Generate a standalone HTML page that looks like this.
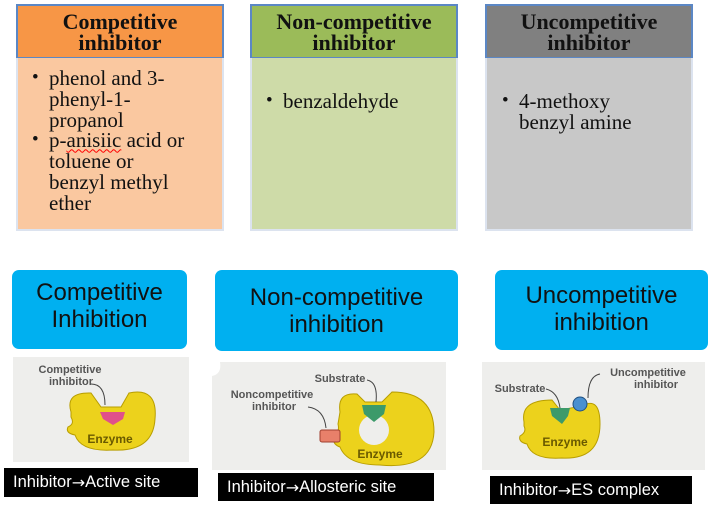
<!DOCTYPE html>
<html><head><meta charset="utf-8"><style>
body{margin:0;width:709px;height:509px;background:#fff;position:relative;overflow:hidden;font-family:"Liberation Sans",sans-serif}
.a{position:absolute;box-sizing:border-box}
.hd{border:2px solid #5b87c5;font-family:"Liberation Serif",serif;font-weight:bold;font-size:22px;line-height:21px;text-align:center;padding-top:5px;color:#111}
.bd{border:2px solid #dce3ef;border-top:none;font-family:"Liberation Serif",serif;font-size:21px;line-height:20.8px;color:#111;white-space:nowrap}
.bd ul{margin:0;padding:0;list-style:none}
.bd li{position:relative}
.bd li:before{content:"•";position:absolute;left:-17px;font-size:19px}
.blue{background:#00b0f0;border-radius:7px;font-size:24px;line-height:27px;text-align:center;color:#111}
.blk{background:#000;color:#fff;font-size:16.5px;padding-left:9px;white-space:nowrap;display:flex;align-items:center}
.ar{font-family:"DejaVu Sans",sans-serif;font-size:16px}
</style></head><body>
<div class="a hd" style="left:16px;top:4px;width:208px;height:55px;background:#f79646">Competitive<br>inhibitor</div>
<div class="a bd" style="left:16px;top:58px;width:208px;height:173px;background:#fac8a0;padding:10px 0 0 31px">
<ul><li>phenol and 3-<br>phenyl-1-<br>propanol</li><li>p-<span style="text-decoration:underline wavy red;text-decoration-thickness:1px">anisiic</span> acid or<br>toluene or<br>benzyl methyl<br>ether</li></ul></div>
<div class="a hd" style="left:250px;top:4px;width:208px;height:55px;background:#9bbb59">Non-competitive<br>inhibitor</div>
<div class="a bd" style="left:250px;top:58px;width:208px;height:173px;background:#cedba8;padding:33px 0 0 31px"><ul><li>benzaldehyde</li></ul></div>
<div class="a hd" style="left:485px;top:4px;width:208px;height:55px;background:#808080">Uncompetitive<br>inhibitor</div>
<div class="a bd" style="left:485px;top:58px;width:208px;height:173px;background:#c8c8c8;padding:33px 0 0 32px"><ul><li>4-methoxy<br>benzyl amine</li></ul></div>

<div class="a blue" style="left:12px;top:270px;width:175px;height:79px;padding-top:9px">Competitive<br>Inhibition</div>
<div class="a blue" style="left:215px;top:270px;width:243px;height:81px;padding-top:14px">Non-competitive<br>inhibition</div>
<div class="a blue" style="left:495px;top:270px;width:213px;height:80px;padding-top:12px">Uncompetitive<br>inhibition</div>

<svg class="a" style="left:13px;top:357px" width="176" height="105"><rect width="176" height="105" fill="#eeeeec"/>
<path d="M58 55 Q52 35 78 36 L88 50 L108 50 L116 36 Q145 30 142 62 Q140 95 100 93 Q68 95 62 78 Q52 76 55 70 Q62 67 58 60 Z" fill="#ecd21c" stroke="#b89e00"/>
<path d="M87 55 L112 55 L110 62 L100 68 L90 62 Z" fill="#e0508a"/>
<path d="M78 27 Q92 27 92 48" fill="none" stroke="#444"/>
<text x="57" y="16" font-size="11" font-weight="bold" fill="#555" text-anchor="middle">Competitive</text>
<text x="58" y="28" font-size="11" font-weight="bold" fill="#555" text-anchor="middle">inhibitor</text>
<text x="97" y="86" font-size="12" font-weight="bold" fill="#6a5a00" text-anchor="middle">Enzyme</text></svg>

<svg class="a" style="left:212px;top:362px" width="234" height="108"><rect width="234" height="108" fill="#eeeeec"/>
<path d="M0 0 L8 0 Q10 12 0 14 Z" fill="#fff"/>
<path d="M128 50 Q125 30 145 32 L153 40 L170 40 L180 30 Q222 30 222 70 Q220 108 168 103 Q135 103 128 85 Q120 82 122 75 Q128 70 126 62 Z" fill="#ecd21c" stroke="#b89e00"/>
<circle cx="162" cy="68" r="15" fill="#eeeeec"/>
<path d="M150 43 L174 43 L172 52 L162 60 L152 52 Z" fill="#3c9a6a"/>
<rect x="108" y="68" width="20" height="12" rx="2" fill="#e8806a" stroke="#a04030"/>
<text x="128" y="20" font-size="11" font-weight="bold" fill="#555" text-anchor="middle">Substrate</text>
<text x="60" y="36" font-size="11" font-weight="bold" fill="#555" text-anchor="middle">Noncompetitive</text>
<text x="62" y="48" font-size="11" font-weight="bold" fill="#555" text-anchor="middle">inhibitor</text>
<path d="M96 45 Q112 47 114 66" fill="none" stroke="#444"/>
<path d="M155 18 Q166 20 164 40" fill="none" stroke="#444"/>
<text x="168" y="96" font-size="12" font-weight="bold" fill="#6a5a00" text-anchor="middle">Enzyme</text></svg>

<svg class="a" style="left:482px;top:362px" width="223" height="108"><rect width="223" height="108" fill="#eeeeec"/>
<path d="M42 60 Q38 38 70 38 L78 48 L100 44 Q118 34 118 62 Q118 98 80 96 Q50 98 45 82 Q36 80 38 74 Q45 70 42 64 Z" fill="#ecd21c" stroke="#b89e00"/>
<path d="M68 46 L88 46 L86 54 L80 62 L70 54 Z" fill="#3c9a6a"/>
<circle cx="98" cy="42" r="7" fill="#4a90d0" stroke="#205080"/>
<text x="38" y="30" font-size="11" font-weight="bold" fill="#555" text-anchor="middle">Substrate</text>
<text x="166" y="14" font-size="11" font-weight="bold" fill="#555" text-anchor="middle">Uncompetitive</text>
<text x="174" y="26" font-size="11" font-weight="bold" fill="#555" text-anchor="middle">inhibitor</text>
<path d="M64 27 Q76 30 78 46" fill="none" stroke="#444"/>
<path d="M118 12 Q106 14 106 36" fill="none" stroke="#444"/>
<text x="83" y="84" font-size="12" font-weight="bold" fill="#6a5a00" text-anchor="middle">Enzyme</text></svg>

<div class="a blk" style="left:4px;top:468px;width:194px;height:29px">Inhibitor<span class="ar">→</span>Active site</div>
<div class="a blk" style="left:218px;top:473px;width:216px;height:28px">Inhibitor<span class="ar">→</span>Allosteric site</div>
<div class="a blk" style="left:490px;top:476px;width:202px;height:28px">Inhibitor<span class="ar">→</span>ES complex</div>
</body></html>
